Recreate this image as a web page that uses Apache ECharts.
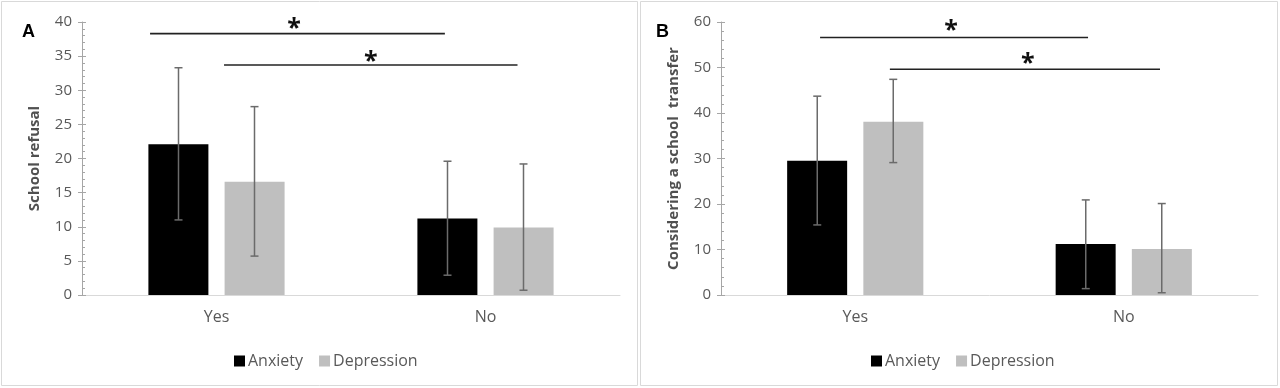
<!DOCTYPE html>
<html>
<head>
<meta charset="utf-8">
<script src="https://cdn.jsdelivr.net/npm/echarts@6/dist/echarts.min.js"></script>
<style>
html,body{margin:0;padding:0;background:#fff;}
#chart{width:1280px;height:388px;}
</style>
</head>
<body>
<div id="chart"></div>
<script>
// ---- data ----
const categories = ['Yes', 'No'];
const seriesNames = ['Anxiety', 'Depression'];

// Panel A: School refusal
const refusalAnxiety = [22.1, 11.2];
const refusalDepression = [16.6, 9.9];
const refusalAnxietyErr = [[11.0, 33.3], [2.9, 19.6]];     // [low, high]
const refusalDepressionErr = [[5.7, 27.6], [0.7, 19.2]];
const refusalTicks = [0, 40, 5];                             // min, max, interval

// Panel B: Considering a school transfer
const transferAnxiety = [29.5, 11.2];
const transferDepression = [38.1, 10.1];
const transferAnxietyErr = [[15.4, 43.7], [1.4, 20.9]];
const transferDepressionErr = [[29.1, 47.4], [0.5, 20.1]];
const transferTicks = [0, 60, 10];

// significance brackets: [xStart, xEnd, y, starX, starY] on a 0..2 category span
const refusalSig = [[0.253, 1.349, 38.3, 0.788, 40.0], [0.528, 1.619, 33.7, 1.074, 35.2]];
const transferSig = [[0.369, 1.367, 56.6, 0.857, 59.6], [0.629, 1.635, 49.6, 1.143, 52.4]];

const yTitles = ['School refusal', 'Considering a school  transfer'];
const panelLetters = ['A', 'B'];

// ---- styling ----
const FONT = '"Open Sans", "Noto Sans", sans-serif';
const TXT = '#595959';
const BLACK = '#000000';
const GREY = '#bfbfbf';
const BAR_W = 60;
const BAR_OFF = 38;

const chart = echarts.init(document.getElementById('chart'));

const grids = [
  {left: 82, right: 660, top: 22, bottom: 93},
  {left: 721, right: 22, top: 22, bottom: 93}
];

function yAxesFor(gi, ticks, title) {
  return [
    {
      gridIndex: gi, type: 'value', position: 'left', min: ticks[0], max: ticks[1], interval: ticks[2],
      name: title, nameLocation: 'middle', nameGap: 40,
      nameTextStyle: {fontFamily: FONT, fontSize: 15, fontWeight: 'bold', color: '#505050'},
      axisLine: {show: true, lineStyle: {color: '#a6a6a6', width: 1}},
      axisTick: {show: true, length: 4, lineStyle: {color: '#a6a6a6'}},
      axisLabel: {fontFamily: FONT, fontSize: 15, color: TXT, margin: 10},
      splitLine: {show: false}
    },
    {
      gridIndex: gi, type: 'value', position: 'left', offset: 0, min: ticks[0], max: ticks[1], interval: ticks[2],
      axisLine: {show: false},
      axisTick: {show: true, inside: true, length: 4, lineStyle: {color: '#a6a6a6'}},
      minorTick: {show: true, splitNumber: 5, length: 3, lineStyle: {color: '#a6a6a6'}},
      axisLabel: {show: false},
      splitLine: {show: false}
    }
  ];
}

function xAxesFor(gi) {
  return [
    {
      gridIndex: gi, type: 'category', data: categories,
      axisLine: {lineStyle: {color: '#d9d9d9', width: 1}},
      axisTick: {show: false},
      axisLabel: {fontFamily: FONT, fontSize: 16, color: TXT, margin: 14}
    },
    {gridIndex: gi, type: 'value', min: 0, max: 2, show: false}
  ];
}

function errorSeries(name, xi, yi, errs, offset) {
  return {
    type: 'custom', name: name, xAxisIndex: xi, yAxisIndex: yi, z: 5,
    data: errs.map((e, i) => [i, e[0], e[1]]),
    encode: {x: 0, y: [1, 2]},
    renderItem: function (params, api) {
      const ci = api.value(0);
      const x = api.coord([ci, 0])[0] + offset;
      const yl = api.coord([ci, api.value(1)])[1];
      const yh = api.coord([ci, api.value(2)])[1];
      const st = {stroke: '#6b6b6b', lineWidth: 1.5};
      return {
        type: 'group',
        children: [
          {type: 'line', shape: {x1: x, y1: yl, x2: x, y2: yh}, style: st},
          {type: 'line', shape: {x1: x - 4, y1: yl, x2: x + 4, y2: yl}, style: st},
          {type: 'line', shape: {x1: x - 4, y1: yh, x2: x + 4, y2: yh}, style: st}
        ]
      };
    }
  };
}

function sigSeries(xi, yi, sig) {
  return {
    type: 'custom', name: 'sig', xAxisIndex: xi, yAxisIndex: yi, z: 6, clip: false,
    data: sig,
    encode: {x: [0, 1, 3], y: [2, 4]},
    renderItem: function (params, api) {
      const p0 = api.coord([api.value(0), api.value(2)]);
      const p1 = api.coord([api.value(1), api.value(2)]);
      const ps = api.coord([api.value(3), api.value(4)]);
      return {
        type: 'group',
        children: [
          {type: 'line', shape: {x1: p0[0], y1: p0[1], x2: p1[0], y2: p1[1]},
           style: {stroke: '#222222', lineWidth: 1.6}},
          {type: 'text', x: ps[0], y: ps[1] + 7,
           style: {text: '*', fontFamily: FONT, fontSize: 25, fontWeight: 'bold',
                   fill: '#111111', align: 'center', verticalAlign: 'middle'}}
        ]
      };
    }
  };
}

function barSeries(name, xi, yi, data, color) {
  return {
    type: 'bar', name: name, xAxisIndex: xi, yAxisIndex: yi,
    data: data, barWidth: BAR_W, barGap: '27%',
    itemStyle: {color: color}, z: 2
  };
}

const legendBase = {data: seriesNames, top: 348, icon: 'rect', itemWidth: 11, itemHeight: 11, itemGap: 16,
  textStyle: {fontFamily: FONT, fontSize: 16, color: TXT, padding: [0, 0, 0, -2]}};

const option = {
  animation: false,
  backgroundColor: '#ffffff',
  grid: grids,
  xAxis: [...xAxesFor(0), ...xAxesFor(1)],
  yAxis: [...yAxesFor(0, refusalTicks, yTitles[0]), ...yAxesFor(1, transferTicks, yTitles[1])],
  legend: [
    Object.assign({left: 229}, legendBase),
    Object.assign({left: 866}, legendBase)
  ],
  graphic: [
    {type: 'rect', shape: {x: 1.5, y: 1.5, width: 636, height: 384}, style: {fill: 'none', stroke: '#d9d9d9', lineWidth: 1}, silent: true},
    {type: 'rect', shape: {x: 640.5, y: 1.5, width: 637, height: 384}, style: {fill: 'none', stroke: '#d9d9d9', lineWidth: 1}, silent: true},
    {type: 'text', left: 22, top: 23, style: {text: panelLetters[0], fontFamily: '"Liberation Sans", Arial, sans-serif', fontSize: 18, fontWeight: 'bold', fill: '#000'}},
    {type: 'text', left: 656, top: 23, style: {text: panelLetters[1], fontFamily: '"Liberation Sans", Arial, sans-serif', fontSize: 18, fontWeight: 'bold', fill: '#000'}}
  ],
  series: [
    barSeries(seriesNames[0], 0, 0, refusalAnxiety, BLACK),
    barSeries(seriesNames[1], 0, 0, refusalDepression, GREY),
    errorSeries('errA1', 0, 0, refusalAnxietyErr, -BAR_OFF),
    errorSeries('errA2', 0, 0, refusalDepressionErr, BAR_OFF),
    sigSeries(1, 0, refusalSig),
    barSeries(seriesNames[0], 2, 2, transferAnxiety, BLACK),
    barSeries(seriesNames[1], 2, 2, transferDepression, GREY),
    errorSeries('errB1', 2, 2, transferAnxietyErr, -BAR_OFF),
    errorSeries('errB2', 2, 2, transferDepressionErr, BAR_OFF),
    sigSeries(3, 2, transferSig)
  ]
};
chart.setOption(option);
</script>
</body>
</html>
